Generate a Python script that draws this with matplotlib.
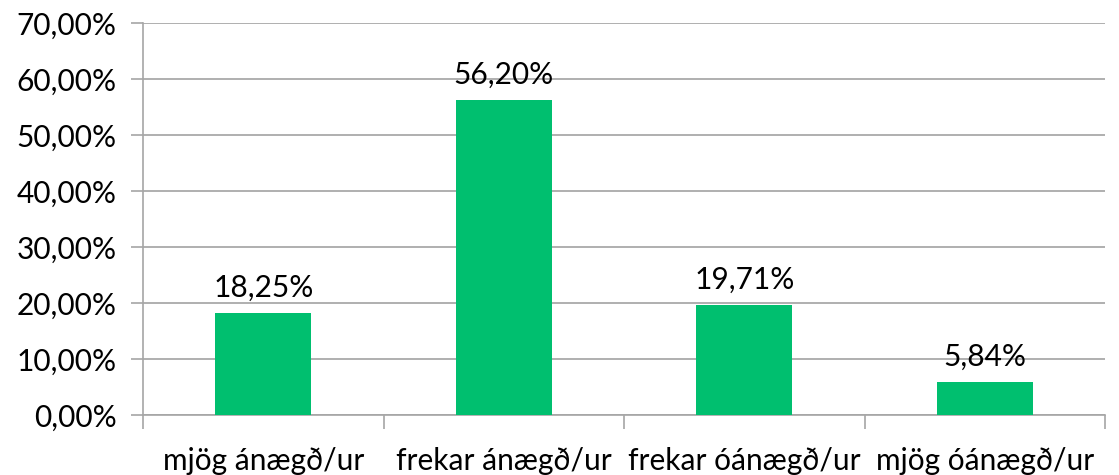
import matplotlib.pyplot as plt
from matplotlib.ticker import FuncFormatter

categories = ['mjög ánægð/ur', 'frekar ánægð/ur', 'frekar óánægð/ur', 'mjög óánægð/ur']
values = [18.25, 56.20, 19.71, 5.84]
labels = ['18,25%', '56,20%', '19,71%', '5,84%']

plt.rcParams['font.family'] = 'Lato'

fig = plt.figure(figsize=(11.19, 4.75), dpi=100)
ax = fig.add_axes([0.1278, 0.1263, 0.8597, 0.8253])

x = range(len(categories))
bars = ax.bar(x, values, width=0.4, color='#00BF6F', zorder=3)

for xi, v, lab in zip(x, values, labels):
    ax.annotate(lab, (xi, v), xytext=(0, 8), textcoords='offset points',
                ha='center', va='bottom', fontsize=21.5, color='#000000')

ax.set_xlim(-0.5, 3.5)
ax.set_ylim(0, 70)
ax.set_yticks(range(0, 71, 10))
ax.yaxis.set_major_formatter(FuncFormatter(lambda v, p: f'{v:.2f}%'.replace('.', ',')))

ax.set_xticks([-0.5, 0.5, 1.5, 2.5, 3.5])
ax.set_xticklabels([])
ax.set_xticks(list(x), minor=True)
ax.set_xticklabels(categories, minor=True)
ax.tick_params(axis='x', which='major', length=10, width=1.2, color='#A6A6A6', direction='out')
ax.tick_params(axis='x', which='minor', length=0, pad=23, labelsize=21.5, labelcolor='#000000')
ax.tick_params(axis='y', length=9, width=1.2, color='#A6A6A6', labelsize=21.5, pad=10,
               labelcolor='#000000')

ax.grid(axis='y', color='#9A9A9A', linewidth=1.1, zorder=0)
for s in ['top', 'right']:
    ax.spines[s].set_visible(False)
for s in ['left', 'bottom']:
    ax.spines[s].set_color('#A6A6A6')
    ax.spines[s].set_linewidth(1.2)

fig.savefig('out.png', dpi=100)
